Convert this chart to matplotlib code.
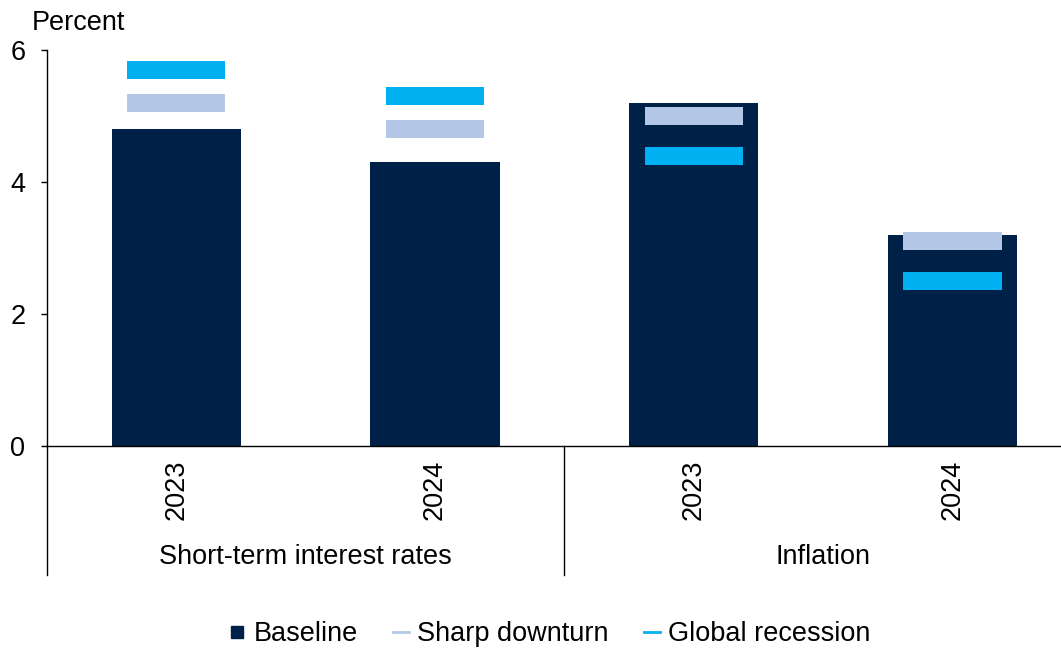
import matplotlib
matplotlib.use("Agg")
import matplotlib.pyplot as plt
from matplotlib.lines import Line2D
from matplotlib.transforms import blended_transform_factory
import numpy as np

plt.rcParams['font.family'] = ['Liberation Sans', 'DejaVu Sans']
plt.rcParams['font.size'] = 19.5

groups = ['Short-term interest rates', 'Inflation']
years = ['2023', '2024', '2023', '2024']
baseline = [4.8, 4.3, 5.2, 3.2]
sharp_downturn = [5.2, 4.8, 5.0, 3.1]
global_recession = [5.7, 5.3, 4.4, 2.5]

navy = '#002147'
light = '#B4C7E7'
cyan = '#00B0F0'

fig = plt.figure(figsize=(10.61, 6.49), dpi=100)
ax = fig.add_axes([47 / 1061, 203 / 649, 1014 / 1061, 396 / 649])

x = np.arange(len(baseline))
ax.bar(x, baseline, width=0.5, color=navy)

# scenario markers: thin bars centred on each value
thick = 0.27
ax.bar(x, [thick] * len(x), bottom=np.array(sharp_downturn) - thick / 2,
       width=0.38, color=light)
ax.bar(x, [thick] * len(x), bottom=np.array(global_recession) - thick / 2,
       width=0.38, color=cyan)

ax.set_xlim(-0.5, 3.42)
ax.set_ylim(0, 6)
ax.set_yticks([0, 2, 4, 6])
ax.set_xticks([])
ax.tick_params(axis='y', direction='out', length=4.5, width=1, pad=11)
for s in ['top', 'right']:
    ax.spines[s].set_visible(False)
ax.spines['left'].set_linewidth(1)
ax.spines['bottom'].set_linewidth(1)

trans = blended_transform_factory(ax.transData, ax.transAxes)
for xs in [-0.5, 1.5]:
    ax.plot([xs, xs], [0, -0.326], transform=trans, color='black', lw=1,
            clip_on=False)
for xi, yr in zip(x, years):
    ax.text(xi, -0.035, yr, transform=trans, rotation=90, ha='center',
            va='top')
for gi, g in enumerate(groups):
    ax.text(0.5 + 2 * gi, -0.28, g, transform=trans, ha='center',
            va='center')

fig.text(32 / 1061, 1 - 23 / 649, 'Percent', ha='left', va='center')

handles = [
    Line2D([], [], marker='s', linestyle='none', color=navy, markersize=8),
    Line2D([0], [0], color=light, lw=2),
    Line2D([0], [0], color=cyan, lw=2),
]
fig.legend(handles, ['Baseline', 'Sharp downturn', 'Global recession'],
           loc='center', bbox_to_anchor=(550 / 1061, 1 - 634 / 649),
           ncol=3, frameon=False, handlelength=0.6, handletextpad=0.3,
           columnspacing=1.3)

fig.savefig('out.png', dpi=100)
